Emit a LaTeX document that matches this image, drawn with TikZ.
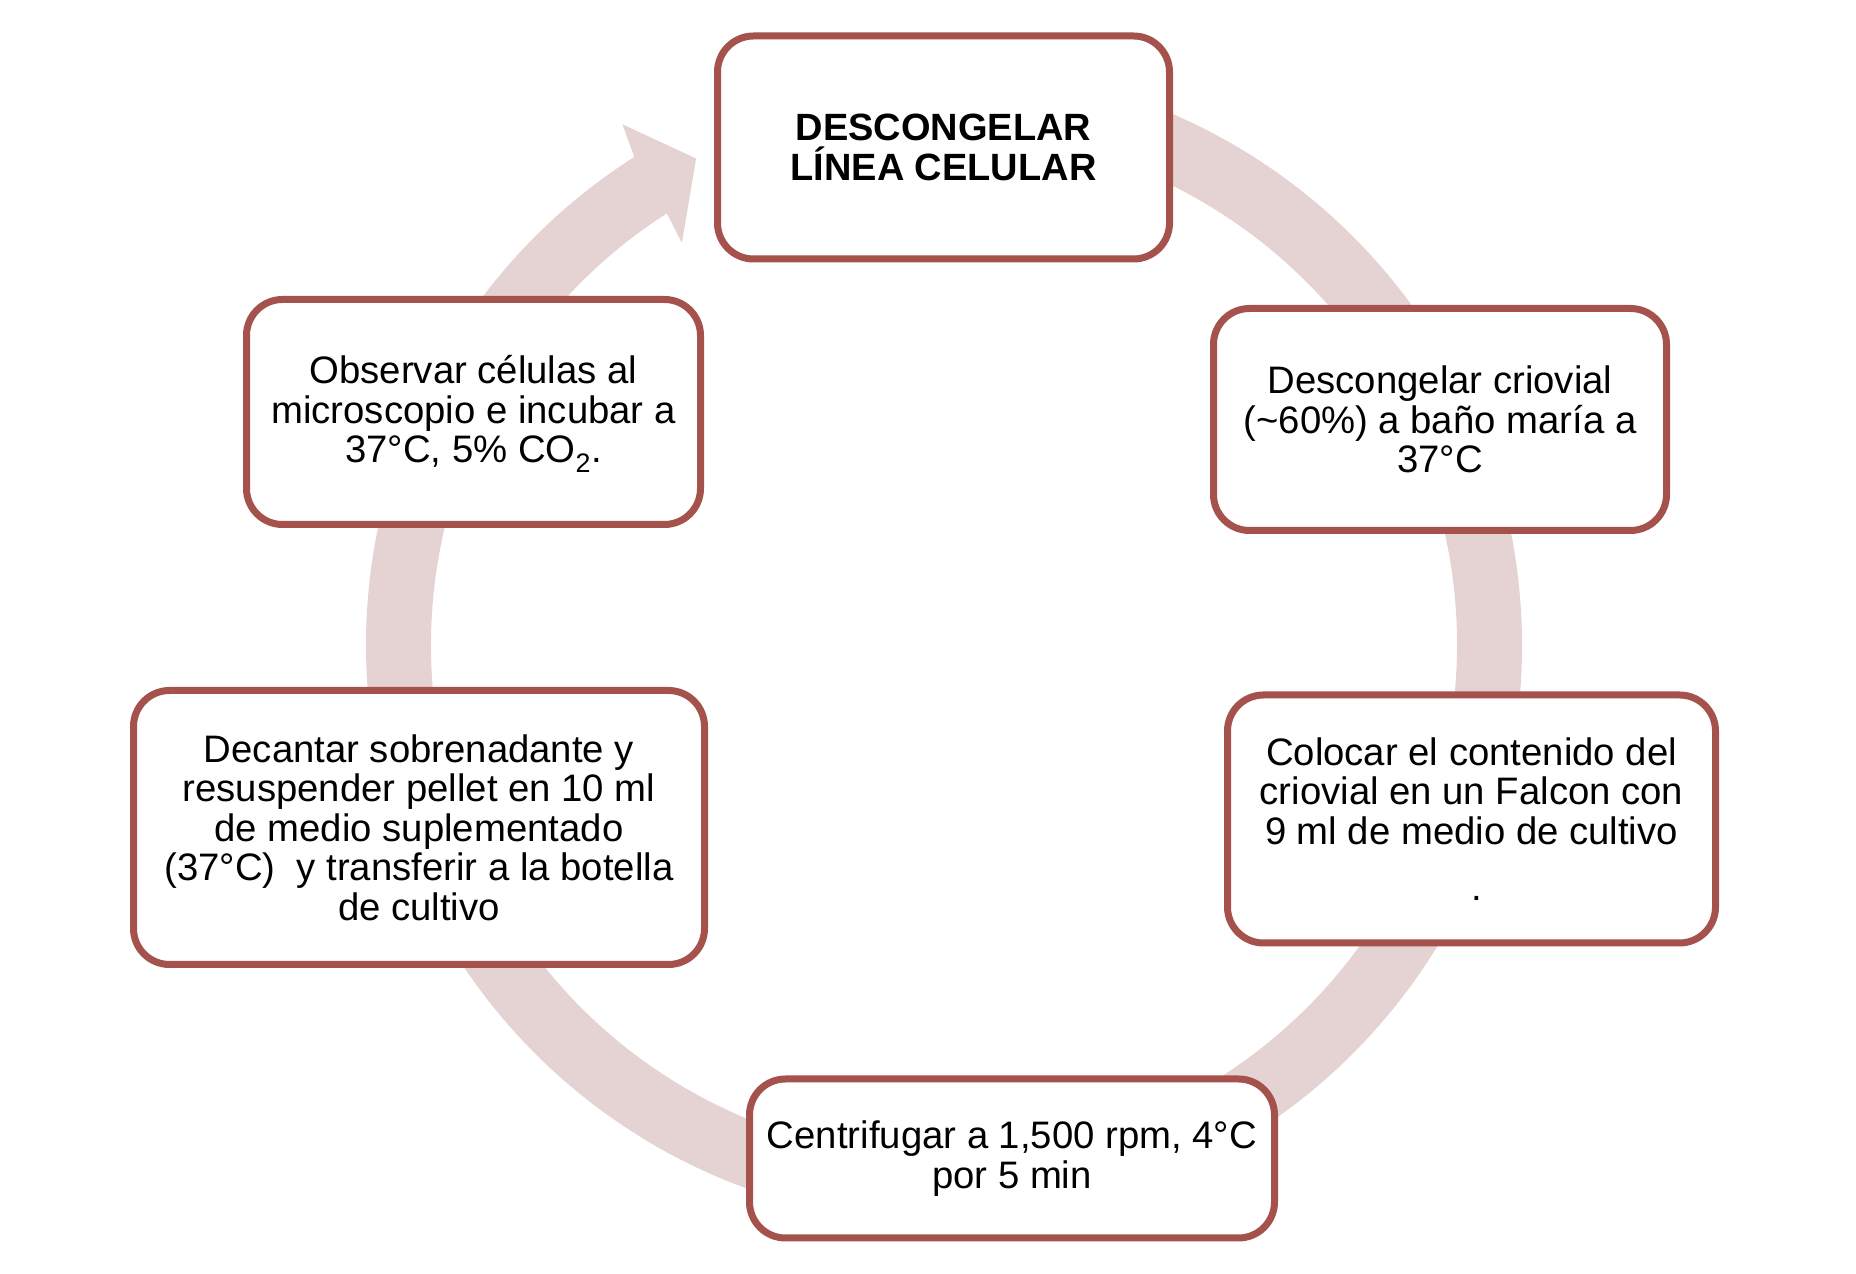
\documentclass[tikz,border=0pt]{standalone}
\usepackage{fontspec}
\setmainfont{Liberation Sans}
\usetikzlibrary{calc}
\definecolor{boxc}{RGB}{165,81,76}
\definecolor{ringc}{RGB}{229,211,211}
\tikzset{
  stepbox/.style={draw=boxc, line width=7pt, fill=white, rounded corners=36pt,
    align=center, inner sep=0pt, font=\fontsize{38.3}{39.5}\selectfont},
}
\begin{document}
\begin{tikzpicture}[x=1pt,y=1pt]
\useasboundingbox (0,0) rectangle (1856,1274);
\coordinate (C) at (944,629);
% circular arrow
\fill[ringc] ($(C)+(95:578)$) arc[start angle=95, end angle=-237.6, radius=578]
  -- ($(C)+(-238.3:612)$) -- ($(C)+(-243:546)$) -- ($(C)+(-236.9:480)$)
  -- ($(C)+(-237.3:513)$) arc[start angle=-237.3, end angle=95, radius=513] -- cycle;
% boxes
\node[stepbox, minimum width=452pt, minimum height=223pt, font=\fontsize{38}{39.5}\selectfont\bfseries] (top) at (943.5,1126.5) {DESCONGELAR\\LÍNEA CELULAR};
\node[stepbox, minimum width=453pt, minimum height=222pt] (rtop) at (1440,854.5) {Descongelar criovial\\(\textasciitilde60\%) a baño maría a\\37°C};
\node[stepbox, minimum width=488pt, minimum height=248pt] (rbot) at (1471.5,455) {Colocar el contenido del\\criovial en un Falcon con\\9 ml de medio de cultivo\\[17pt]\ .};
\node[stepbox, minimum width=525pt, minimum height=159pt] (bot) at (1012,115.5) {Centrifugar a 1,500 rpm, 4°C\\por 5 min};
\node[stepbox, minimum width=571pt, minimum height=274pt] (lbot) at (419,446.5) {Decantar sobrenadante y\\resuspender pellet en 10 ml\\de medio suplementado\\(37°C)\ \ y transferir a la botella\\de cultivo};
\node[stepbox, minimum width=454pt, minimum height=225pt] (ltop) at (473.5,862) {\raisebox{-3pt}[\height][\depth]{\begin{tabular}{@{}c@{}}Observar células al\\microscopio e incubar a\\37°C, 5\% CO\textsubscript{2}.\end{tabular}}};
\end{tikzpicture}
\end{document}
